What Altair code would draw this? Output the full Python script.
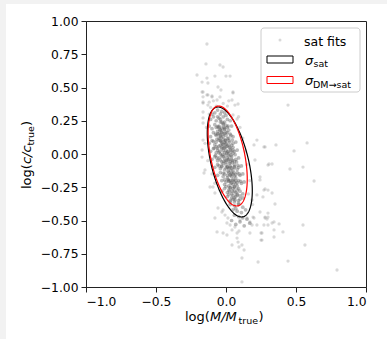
import math
import altair as alt
import pandas as pd

# ---------------- data ----------------
# dense core of satellite fits (x = log(M/Mtrue), y = log(c/ctrue))
sat_core = [
    (-0.06, 0.33), (-0.03, 0.32), (-0.08, 0.31), (-0.04, 0.30), (-0.01, 0.31), (-0.10, 0.30), (0.00, 0.29),
    (-0.09, 0.28), (-0.05, 0.27), (-0.02, 0.28), (0.01, 0.26), (-0.07, 0.25), (-0.04, 0.24), (-0.11, 0.26),
    (0.03, 0.25), (-0.01, 0.24), (-0.06, 0.28),
    (-0.08, 0.22), (-0.05, 0.21), (-0.02, 0.22), (0.01, 0.20), (-0.10, 0.19), (-0.04, 0.18), (0.02, 0.18),
    (-0.07, 0.20), (-0.03, 0.195), (0.04, 0.21), (-0.12, 0.21), (-0.01, 0.185),
    (-0.09, 0.16), (-0.06, 0.15), (-0.03, 0.16), (0.00, 0.14), (0.03, 0.15), (-0.11, 0.13), (-0.05, 0.12),
    (-0.02, 0.13), (0.02, 0.12), (0.05, 0.13), (-0.07, 0.14), (-0.01, 0.155), (-0.04, 0.135),
    (-0.10, 0.10), (-0.07, 0.09), (-0.04, 0.10), (-0.01, 0.09), (0.02, 0.10), (0.05, 0.08), (-0.08, 0.07),
    (-0.05, 0.06), (-0.02, 0.07), (0.01, 0.06), (0.04, 0.065), (-0.03, 0.085), (0.00, 0.075), (-0.12, 0.08),
    (0.07, 0.09),
    (-0.09, 0.04), (-0.06, 0.03), (-0.03, 0.04), (0.00, 0.03), (0.03, 0.04), (0.06, 0.02), (-0.07, 0.01),
    (-0.04, 0.00), (-0.01, 0.01), (0.02, 0.00), (0.05, 0.005), (-0.02, 0.025), (0.01, 0.015), (0.08, 0.03),
    (-0.11, 0.02),
    (-0.08, -0.02), (-0.05, -0.03), (-0.02, -0.02), (0.01, -0.03), (0.04, -0.02), (0.07, -0.04), (-0.06, -0.05),
    (-0.03, -0.06), (0.00, -0.05), (0.03, -0.06), (0.06, -0.055), (0.02, -0.04), (-0.01, -0.035), (0.09, -0.03),
    (-0.10, -0.04),
    (-0.06, -0.08), (-0.03, -0.09), (0.00, -0.08), (0.03, -0.09), (0.06, -0.08), (0.09, -0.10), (-0.04, -0.11),
    (-0.01, -0.12), (0.02, -0.11), (0.05, -0.12), (0.08, -0.115), (0.01, -0.095), (0.04, -0.105), (-0.08, -0.10),
    (0.11, -0.09),
    (-0.04, -0.14), (-0.01, -0.15), (0.02, -0.14), (0.05, -0.15), (0.08, -0.14), (0.10, -0.16), (-0.02, -0.17),
    (0.01, -0.18), (0.04, -0.17), (0.07, -0.18), (0.03, -0.155), (0.06, -0.165), (-0.06, -0.16), (0.12, -0.15),
    (-0.03, -0.20), (0.00, -0.21), (0.03, -0.20), (0.06, -0.21), (0.09, -0.20), (0.11, -0.22), (-0.01, -0.23),
    (0.02, -0.24), (0.05, -0.23), (0.08, -0.24), (0.04, -0.215), (0.07, -0.225), (0.13, -0.21),
    (-0.01, -0.26), (0.02, -0.27), (0.05, -0.26), (0.08, -0.27), (0.10, -0.28), (0.01, -0.29), (0.04, -0.30),
    (0.07, -0.29), (0.12, -0.30), (0.06, -0.28), (-0.03, -0.28),
    (0.01, -0.32), (0.04, -0.33), (0.07, -0.32), (0.10, -0.34), (0.03, -0.35), (0.06, -0.36), (0.09, -0.35),
    (0.12, -0.33), (0.05, -0.34),
    (0.03, -0.38), (0.06, -0.39), (0.09, -0.38), (0.12, -0.40), (0.05, -0.42), (0.08, -0.43), (0.11, -0.44),
    (0.14, -0.42), (0.07, -0.41),
    (0.06, -0.46), (0.09, -0.47), (0.12, -0.48), (0.04, -0.50), (0.10, -0.51), (0.15, -0.49), (0.07, -0.53),
    (0.13, -0.54), (0.17, -0.52),
]

sat_ridge = [
    (-0.04, 0.26), (-0.02, 0.23), (-0.05, 0.20), (-0.03, 0.17), (0.00, 0.165), (-0.04, 0.145), (-0.02, 0.11),
    (0.01, 0.115), (-0.05, 0.105), (-0.03, 0.05), (0.00, 0.055), (-0.015, 0.045), (0.025, 0.05), (-0.045, 0.02),
    (-0.005, -0.01), (0.02, -0.015), (0.035, -0.01), (-0.03, -0.015), (0.00, -0.06), (0.025, -0.07),
    (0.045, -0.065), (-0.02, -0.07), (0.01, -0.10), (0.035, -0.125), (0.06, -0.10), (0.015, -0.13),
    (0.03, -0.16), (0.05, -0.19), (0.015, -0.19), (0.035, -0.22), (0.06, -0.245), (0.03, -0.25),
    (0.045, -0.28), (0.08, -0.31), (-0.01, 0.19), (-0.06, 0.17), (0.00, 0.08), (-0.06, 0.045), (0.04, -0.04),
    (0.055, -0.14), (-0.005, 0.10), (-0.025, 0.075), (0.015, 0.02), (-0.035, 0.125), (0.00, 0.215),
    (-0.03, 0.24), (0.02, -0.20), (0.07, -0.20), (0.025, -0.28), (0.06, -0.33),
    (-0.06, 0.205), (-0.015, 0.20), (0.015, 0.21), (-0.045, 0.185), (-0.05, 0.155), (-0.02, 0.15),
    (0.01, 0.16), (-0.075, 0.15), (0.035, 0.14), (-0.065, 0.11), (-0.035, 0.095), (-0.005, 0.105),
    (0.025, 0.09), (-0.09, 0.095), (0.045, 0.105), (-0.07, 0.055), (-0.04, 0.065), (-0.01, 0.05),
    (0.02, 0.065), (0.05, 0.05), (-0.085, 0.045), (0.035, 0.03), (-0.05, 0.01), (-0.025, -0.005),
    (0.005, 0.005), (0.035, 0.015), (0.065, -0.005), (-0.075, -0.01), (0.05, 0.03), (-0.04, -0.045),
    (-0.015, -0.055), (0.015, -0.045), (0.045, -0.05), (0.075, -0.06), (-0.065, -0.03), (-0.03, -0.095),
    (0.00, -0.105), (0.03, -0.10), (0.06, -0.095), (0.085, -0.085), (-0.05, -0.09), (-0.02, -0.145),
    (0.01, -0.16), (0.04, -0.145), (0.07, -0.155), (0.095, -0.15), (-0.01, -0.195), (0.02, -0.205),
    (0.05, -0.20), (0.08, -0.215), (0.105, -0.205), (0.00, -0.245), (0.03, -0.255), (0.06, -0.25),
    (0.09, -0.26), (0.02, -0.305), (0.05, -0.31), (0.08, -0.30), (0.10, -0.315), (0.03, -0.36),
    (0.065, -0.345), (0.09, -0.37),
]

sat_upper = [
    (-0.136, 0.827), (-0.143, 0.677), (-0.043, 0.669), (-0.021, 0.654), (-0.207, 0.594), (-0.136, 0.571),
    (-0.079, 0.586), (0.000, 0.586), (0.029, 0.586), (-0.171, 0.541), (-0.129, 0.534), (-0.057, 0.504),
    (-0.036, 0.481), (0.050, 0.466), (-0.164, 0.466), (-0.129, 0.444), (-0.100, 0.429), (-0.164, 0.430),
    (-0.171, 0.466), (-0.136, 0.444), (-0.100, 0.436), (-0.164, 0.383), (-0.129, 0.368), (-0.064, 0.406),
    (-0.043, 0.429), (0.050, 0.459), (0.043, 0.406), (0.064, 0.368), (0.086, 0.376), (-0.164, 0.316),
    (-0.164, 0.271), (-0.164, 0.233), (0.050, 0.293), (0.079, 0.263), (-0.164, 0.105), (-0.171, -0.023),
    (-0.09, 0.40), (-0.02, 0.38), (0.01, 0.36), (-0.11, 0.35), (-0.07, 0.36), (0.02, 0.40), (-0.12, 0.39),
    (-0.164, 0.391), (-0.171, 0.030), (-0.150, -0.120), (-0.114, -0.248),
    (-0.14, 0.20), (-0.15, 0.08), (-0.13, -0.05), (-0.12, 0.30), (-0.10, -0.15), (-0.08, -0.22),
    (0.12, 0.12), (0.10, 0.20), (0.09, 0.28), (0.14, 0.02),
]

sat_right = [
    (0.200, 0.068), (0.279, 0.053), (0.443, 0.368), (0.271, 0.053), (0.357, 0.068), (0.486, 0.023),
    (0.579, 0.083), (0.307, -0.075), (0.329, -0.075), (0.457, -0.113), (0.550, -0.098), (0.243, -0.173),
    (0.629, -0.203), (0.271, -0.271), (0.300, -0.271), (0.329, -0.293), (0.350, -0.376), (0.300, -0.444),
    (0.279, -0.474), (0.293, -0.489), (0.271, -0.534), (0.329, -0.519), (0.343, -0.511), (0.379, -0.526),
    (0.343, -0.571), (0.407, -0.586), (0.250, -0.594), (0.250, -0.647), (0.343, -0.624), (0.550, -0.534),
    (0.564, -0.684), (0.443, -0.805), (0.793, -0.872), (0.300, -0.083), (0.279, -0.263), (0.243, -0.436),
    (0.300, -0.474), (0.193, -0.474), (0.221, -0.308), (0.221, 0.105), (0.207, -0.045), (0.243, -0.195),
    (0.264, -0.323), (0.186, -0.346), (0.15, -0.08), (0.17, -0.20), (0.16, -0.30), (0.19, -0.38),
]

sat_lower = [
    (-0.157, -0.143), (-0.093, -0.248), (-0.079, -0.293), (-0.057, -0.406), (-0.029, -0.436), (-0.007, -0.459),
    (0.014, -0.481), (-0.079, -0.481), (-0.064, -0.586), (-0.021, -0.594), (0.007, -0.609), (0.043, -0.571),
    (0.029, -0.534), (0.007, -0.519), (0.064, -0.549), (0.079, -0.594), (0.093, -0.579), (0.079, -0.632),
    (0.043, -0.684), (0.086, -0.662), (0.114, -0.684), (0.093, -0.699), (0.129, -0.722), (0.114, -0.782),
    (0.229, -0.812), (0.171, -0.594), (0.186, -0.534), (0.221, -0.534), (0.257, -0.594), (0.257, -0.647),
    (0.279, -0.481), (0.300, -0.534), (0.171, -0.511), (0.200, -0.481), (0.150, -0.481), (0.100, -0.496),
    (0.114, -0.962), (-0.021, -0.421),
]

# covariance ellipses: centre, semi-axes, orientation (deg)
ell_names = ["sat", "dm"]
ell_cx = [0.027, 0.012]
ell_cy = [-0.060, -0.015]
ell_a = [0.423, 0.382]
ell_b = [0.134, 0.122]
ell_angle = [102.8, 100.85]

x_ticks = [-1.0, -0.5, 0.0, 0.5, 1.0]
y_ticks = [-1.0, -0.75, -0.5, -0.25, 0.0, 0.25, 0.5, 0.75, 1.0]

# ---------------- build tables ----------------
def pts(lst, group):
    return pd.DataFrame({"x": [p[0] for p in lst], "y": [p[1] for p in lst], "g": group})

outer_df = pd.concat([pts(sat_upper, "u"), pts(sat_right, "r"), pts(sat_lower, "l")])
core_df = pd.concat([pts(sat_core, "c"), pts(sat_ridge, "d")])

rows = []
for name, cx, cy, a, b, ang in zip(ell_names, ell_cx, ell_cy, ell_a, ell_b, ell_angle):
    th = math.radians(ang)
    n = 240
    for k in range(n + 1):
        t = 2 * math.pi * k / n
        rows.append({
            "e": name, "k": k,
            "x": cx + a * math.cos(th) * math.cos(t) - b * math.sin(th) * math.sin(t),
            "y": cy + a * math.sin(th) * math.cos(t) + b * math.cos(th) * math.sin(t),
        })
ell_df = pd.DataFrame(rows)

FONT = "DejaVu Sans"
W, H = 280, 266

xs = alt.Scale(domain=[-1, 1], nice=False, zero=False)
ys = alt.Scale(domain=[-1, 1], nice=False, zero=False)
x_axis = alt.Axis(values=x_ticks, format=".1f", title=None, grid=False)
y_axis = alt.Axis(values=y_ticks, format=".2f", title=None, grid=False)

one = pd.DataFrame({"v": [0]})

# thin grey page margins (top and left)
strips = [
    alt.Chart(one).mark_rect(fill="#f2f2f2").encode(
        x=alt.value(-86), x2=alt.value(-80), y=alt.value(-21), y2=alt.value(318)),
    alt.Chart(one).mark_rect(fill="#f2f2f2").encode(
        x=alt.value(-86), x2=alt.value(301), y=alt.value(-21), y2=alt.value(-17)),
]

outer = alt.Chart(outer_df).mark_circle(size=11, color="#808080", opacity=0.3).encode(
    x=alt.X("x:Q", scale=xs, axis=x_axis),
    y=alt.Y("y:Q", scale=ys, axis=y_axis),
)
core = alt.Chart(core_df).mark_circle(size=14, color="#5a5a5a", opacity=0.42).encode(
    x=alt.X("x:Q", scale=xs, axis=x_axis),
    y=alt.Y("y:Q", scale=ys, axis=y_axis),
)

def ell_layer(name, color):
    return alt.Chart(ell_df[ell_df.e == name]).mark_line(color=color, strokeWidth=1.2).encode(
        x=alt.X("x:Q", scale=xs, axis=x_axis),
        y=alt.Y("y:Q", scale=ys, axis=y_axis),
        order="k:Q",
    )

def txt(s, x, y, size, italic=False, angle=0):
    kw = dict(text=s, font=FONT, fontSize=size, align="left", baseline="alphabetic", color="black")
    if italic:
        kw["fontStyle"] = "italic"
    if angle:
        kw["angle"] = angle
    return alt.Chart(one).mark_text(**kw).encode(x=alt.value(x), y=alt.value(y))

def box(x1, x2, y1, y2, stroke, fill="white", sw=1.0, radius=0, opacity=1.0):
    return alt.Chart(one).mark_rect(stroke=stroke, fill=fill, strokeWidth=sw,
                                    cornerRadius=radius, fillOpacity=opacity).encode(
        x=alt.value(x1), x2=alt.value(x2), y=alt.value(y1), y2=alt.value(y2)
    )

# legend (plot-area pixel coords)
legend = [
    box(175, 274, 7, 71, "#cccccc", sw=1.0, radius=3, opacity=0.8),
    alt.Chart(one).mark_circle(size=9, color="#808080", opacity=0.3).encode(x=alt.value(194), y=alt.value(19)),
    txt("sat fits", 218, 25, 12.5),
    box(181, 207, 35, 42, "black", sw=1.0),
    txt("σ", 219, 43.5, 13, italic=True),
    txt("sat", 227.5, 46, 9.5),
    box(181, 207, 55.5, 62.5, "red", sw=1.0),
    txt("σ", 219, 64, 13, italic=True),
    txt("DM→sat", 227, 66.5, 9.5),
]

# axis titles built from pieces (mathtext look)
titles = [
    txt("log(", 99, 300, 13),
    txt("M/M", 124, 300, 13, italic=True),
    txt("true", 152.5, 303, 9.5),
    txt(")", 172.5, 300, 13),
    txt("log(", -55, 168, 13, angle=270),
    txt("c/c", -55, 143.1, 13, italic=True, angle=270),
    txt("true", -52.5, 124.6, 9.5, angle=270),
    txt(")", -55, 105, 13, angle=270),
]

chart = alt.layer(
    *strips, outer, core, ell_layer("sat", "black"), ell_layer("dm", "red"), *legend, *titles
).properties(
    width=W, height=H,
    autosize=alt.AutoSizeParams(type="none"),
    padding={"left": 86, "top": 21, "right": 21, "bottom": 52},
    background="white",
).configure_view(
    stroke="#222222", strokeWidth=1
).configure_axis(
    labelFont=FONT, labelFontSize=12.3, labelColor="black",
    domainColor="#222222", domainWidth=1, tickColor="#222222", tickWidth=1,
    tickSize=5, labelPadding=3, zindex=1,
)

chart.save("out.html", embed_options={"renderer": "svg", "actions": False})
